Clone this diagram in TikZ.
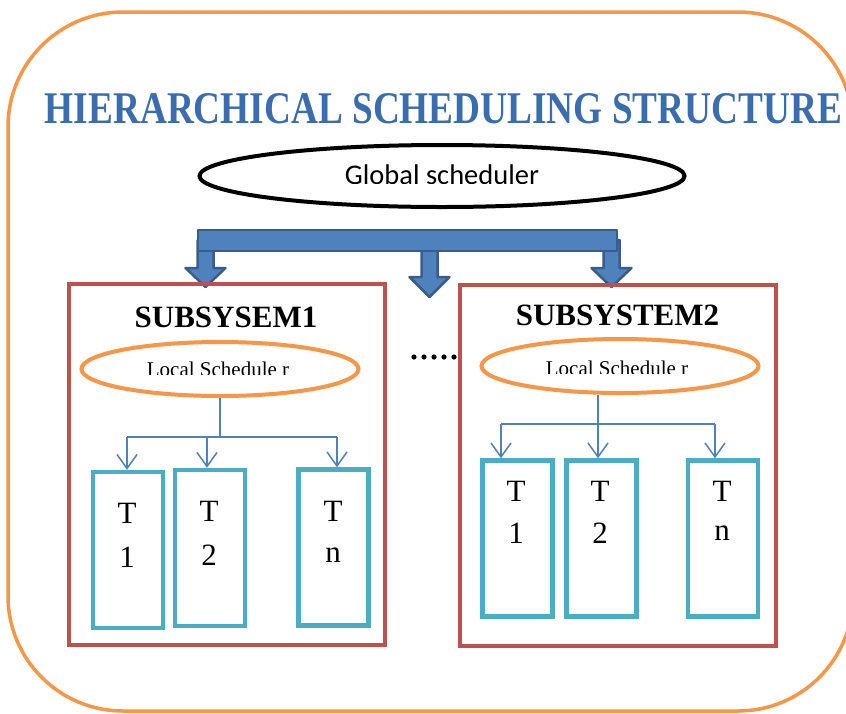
\documentclass[tikz,border=0pt]{standalone}
\usepackage{fontspec}
\usepackage{graphicx}
\usetikzlibrary{shapes.geometric,arrows.meta}
\newfontfamily\tnr{Liberation Serif}
\newfontfamily\calfont{Carlito}
\definecolor{frameorange}{HTML}{F79646}
\definecolor{boxred}{HTML}{C0504D}
\definecolor{taskblue}{HTML}{4BACC6}
\definecolor{arrowblue}{HTML}{4F81BD}
\definecolor{arrowdark}{HTML}{385D8A}
\definecolor{titleblue}{HTML}{3A6DB0}
\begin{document}
\begin{tikzpicture}[x=1pt,y=-1pt,
  subbox/.style={draw=boxred,line width=3.5pt,minimum width=316pt,minimum height=361pt,inner sep=0pt},
  taskbox/.style={draw=taskblue,line width=4.5pt,minimum width=70pt,minimum height=156pt,inner sep=0pt},
  localsched/.style={ellipse,draw=frameorange,line width=4pt,minimum width=277pt,minimum height=54pt,inner sep=0pt},
  globalsched/.style={ellipse,draw=black,line width=4pt,minimum width=485pt,minimum height=62pt,inner sep=0pt},
  subtitle/.style={font=\tnr\bfseries\fontsize{31}{31}\selectfont,inner sep=0pt,anchor=base},
  loctext/.style={font=\tnr\fontsize{21}{21}\selectfont,inner sep=0pt,anchor=base},
  tasktext/.style={font=\tnr\fontsize{31}{31}\selectfont,inner sep=0pt},
  conn/.style={draw=arrowblue,line width=1.5pt},
  connarrow/.style={conn,-{Straight Barb[length=14pt,width=20pt,line width=1.5pt]}},
  blockarrow/.style={fill=arrowblue,draw=arrowdark,line width=2.5pt,line join=round}
]
\useasboundingbox (0,0) rectangle (846,713);
\fill[white] (0,0) rectangle (846,713);

% outer frame
\draw[frameorange,line width=3.5pt,rounded corners=115pt] (8,12) rectangle (853,711);

% title
\node[inner sep=0pt] (title) at (443.5,108.5)
  {\color{titleblue}\resizebox{797pt}{30pt}{\tnr\bfseries HIERARCHICAL SCHEDULING STRUCTURE}};

% global scheduler
\node[globalsched] (gs) at (442,176) {};
\begin{scope}
  \clip (200,140) rectangle (690,183.6);
  \node[font=\calfont\fontsize{28.5}{28.5}\selectfont,inner sep=0pt,anchor=base] (gstext) at (442,184) {Global scheduler};
\end{scope}

% block arrows
\draw[blockarrow] (197.5,240) -- (197.5,268) -- (185.5,268) -- (205.5,287) -- (225.5,268) -- (213.5,268) -- (213.5,240) -- cycle;
\draw[blockarrow] (421.5,240) -- (421.5,277) -- (409.5,277) -- (429.5,297) -- (449.5,277) -- (437.5,277) -- (437.5,240) -- cycle;
\draw[blockarrow] (603.5,240) -- (603.5,268) -- (591.5,268) -- (611.5,287) -- (631.5,268) -- (619.5,268) -- (619.5,240) -- cycle;
\draw[blockarrow] (198,230) rectangle (617,251);

% subsystem boxes
\node[subbox] (s1) at (227,464.5) {};
\node[subbox] (s2) at (618,465.5) {};
\node[subtitle] (s1title) at (226,327) {SUBSYSEM1};
\node[subtitle] (s2title) at (617.5,325) {SUBSYSTEM2};

% dots
\foreach \dx in {0,10,20,30,40} \fill (414+\dx,357) circle (2.6pt);

% local schedulers
\node[localsched] (ls1) at (220,369) {};
\node[localsched] (ls2) at (620,366) {};
\begin{scope}
  \clip (80,330) rectangle (360,374.8);
  \node[loctext] (ls1text) at (218,376) {Local Schedule r};
\end{scope}
\begin{scope}
  \clip (480,330) rectangle (760,373.8);
  \node[loctext] (ls2text) at (617,375) {Local Schedule r};
\end{scope}

% task boxes
\node[taskbox] (t11) at (128,550) {};
\node[taskbox] (t12) at (210,548) {};
\node[taskbox] (t1n) at (333.5,547.5) {};
\node[taskbox] (t21) at (517.5,538.5) {};
\node[taskbox] (t22) at (601.5,538.5) {};
\node[taskbox] (t2n) at (723,538.5) {};

\node[tasktext] (t11a) at (127,513) {T};
\node[tasktext] (t11b) at (127,557) {1};
\node[tasktext] (t12a) at (209,511) {T};
\node[tasktext] (t12b) at (209,555) {2};
\node[tasktext] (t1na) at (333,511) {T};
\node[tasktext] (t1nb) at (333,555) {n};
\node[tasktext] (t21a) at (516,491) {T};
\node[tasktext] (t21b) at (516,533) {1};
\node[tasktext] (t22a) at (600,491) {T};
\node[tasktext] (t22b) at (600,533) {2};
\node[tasktext] (t2na) at (722,491) {T};
\node[tasktext] (t2nb) at (722,533) {n};

% local connectors, subsystem 1
\coordinate (b1l) at (127,437);
\coordinate (b1m) at (207,437);
\coordinate (b1r) at (337,437);
\draw[conn] (ls1.south) -- (ls1.south |- b1l);
\draw[conn] (b1l) -- (b1r);
\draw[connarrow] (b1l) -- (b1l |- t11.north);
\draw[connarrow] (b1m) -- (b1m |- t12.north);
\draw[connarrow] (b1r) -- (b1r |- t1n.north);

% local connectors, subsystem 2
\coordinate (b2l) at (501,424);
\coordinate (b2m) at (598,424);
\coordinate (b2r) at (715,424);
\draw[conn] (ls2.south -| b2m) -- (b2m);
\draw[conn] (b2l) -- (b2r);
\draw[connarrow] (b2l) -- (b2l |- t21.north);
\draw[connarrow] (b2m) -- (b2m |- t22.north);
\draw[connarrow] (b2r) -- (b2r |- t2n.north);
\end{tikzpicture}
\end{document}
